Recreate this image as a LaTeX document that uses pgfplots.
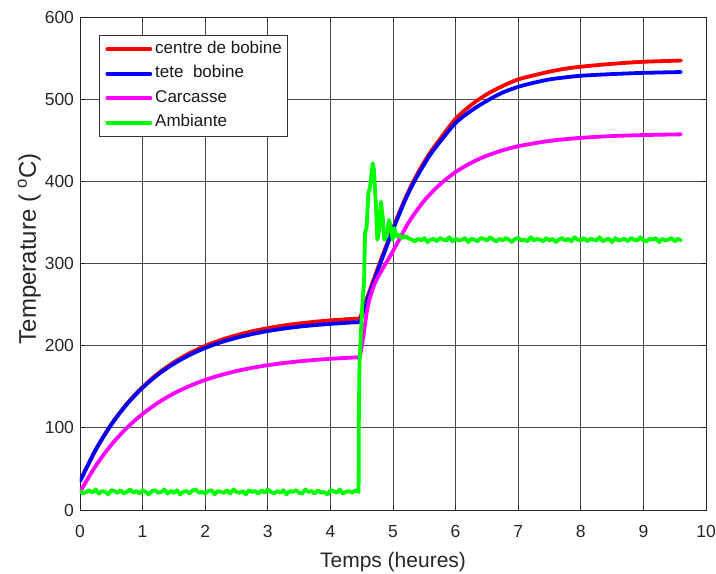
\documentclass[border=0pt]{standalone}
\usepackage{fontspec}
\setmainfont{Liberation Sans}
\usepackage{pgfplots}
\pgfplotsset{compat=1.18}
\definecolor{cred}{RGB}{255,0,0}
\definecolor{cblue}{RGB}{0,0,255}
\definecolor{cmag}{RGB}{255,0,255}
\definecolor{cgreen}{RGB}{0,255,0}
\begin{document}
\begin{tikzpicture}
\begin{axis}[
  scale only axis, width=626bp, height=493bp,
  xmin=0, xmax=10, ymin=0, ymax=600,
  xtick={0,1,2,3,4,5,6,7,8,9,10}, ytick={0,100,200,300,400,500,600},
  grid=major,
  major grid style={black!70, line width=0.7bp},
  axis line style={black!85, line width=0.9bp},
  tick style={black!85, line width=0.8bp},
  tick align=inside, major tick length=5bp,
  /pgf/number format/assume math mode=true,
  tick label style={font=\fontsize{17.5bp}{21bp}\selectfont, text=black!85},
  xticklabel style={anchor=base, yshift=-28bp},
  yticklabel style={xshift=-2.5bp},
  xlabel={Temps (heures)},
  ylabel={Temperature ( \textsuperscript{o}C)},
  label style={text=black!85},
  xlabel style={font=\fontsize{21bp}{25bp}\selectfont, at={(axis description cs:0.5,-0.1176)}, anchor=base},
  ylabel style={font=\fontsize{24bp}{28bp}\selectfont, at={(axis description cs:-0.0703,0.53)}, anchor=base},
  legend style={at={(axis description cs:0.0304,0.9635)}, anchor=north west,
    draw=black!80, line width=0.8bp, fill=white, inner xsep=6bp, inner ysep=6bp,
    font=\fontsize{17bp}{20bp}\selectfont, row sep=9bp, column sep=3bp,
    nodes={inner sep=0bp, text height=12bp, text depth=3.5bp, text=black!90}},
  legend cell align=left,
  legend image code/.code={\draw[#1, line width=3.8bp] (0bp,0bp) -- (43bp,0bp);},
  every axis plot/.append style={line width=3.8bp, line join=round, line cap=round},
]
\coordinate (SW) at (rel axis cs:0,0);
\coordinate (NE) at (rel axis cs:1,1);
% centre de bobine
\addplot[cred, smooth] coordinates {(0,35)(0.25,73.2)(0.5,104.2)(0.75,129.4)(1,149.7)(1.25,166.3)(1.5,179.8)(1.75,190.8)(2,199.7)(2.25,206.9)(2.5,212.7)(2.75,217.5)(3,221.3)(3.25,224.5)(3.5,227)(3.75,229.1)(4,230.8)(4.25,232.1)(4.47,233)};
\addlegendentry{centre de bobine}
\addplot[cred, smooth, forget plot] coordinates {(4.47,233)(4.6,261)(4.75,293)(4.9,323)(5.0,343)(5.1,362)(5.2,380)(5.3,396)(5.4,410.6)(5.5,423.7)(5.6,435.7)(5.75,451.4)(6,476)(6.25,493)(6.5,506)(6.75,516)(7,524)(7.25,529)(7.5,533.5)(7.75,537)(8,539.5)(8.5,543)(9,545.5)(9.6,547)};
% tete bobine
\addplot[cblue, smooth] coordinates {(0,35)(0.25,73.1)(0.5,103.9)(0.75,128.7)(1,148.8)(1.25,165)(1.5,178.1)(1.75,188.6)(2,197.2)(2.25,204.1)(2.5,209.6)(2.75,214.1)(3,217.8)(3.25,220.7)(3.5,223.1)(3.75,225)(4,226.5)(4.25,227.8)(4.47,228.7)};
\addlegendentry{tete\ \ bobine}
\addplot[cblue, smooth, forget plot] coordinates {(4.47,228.7)(4.6,258)(4.75,290)(4.9,321)(5.0,341)(5.1,360)(5.2,378)(5.3,394)(5.4,408)(5.5,421)(5.6,433)(5.75,448)(6,471)(6.25,486)(6.5,498)(6.75,508)(7,515)(7.25,520)(7.5,524)(7.75,526.5)(8,528.5)(8.5,530.5)(9,532)(9.6,533)};
% Carcasse
\addplot[cmag, smooth] coordinates {(0,22)(0.25,53.6)(0.5,79.3)(0.75,100.1)(1,116.9)(1.25,130.7)(1.5,141.9)(1.75,150.9)(2,158.3)(2.25,164.2)(2.5,169.1)(2.75,173)(3,176.2)(3.25,178.8)(3.5,180.9)(3.75,182.6)(4,184)(4.25,185.1)(4.47,185.9)};
\addlegendentry{Carcasse}
\addplot[cmag, smooth, forget plot] coordinates {(4.47,185.9)(4.52,208)(4.58,240)(4.63,258)(4.71,276)(4.8,289)(4.9,302)(5,315)(5.25,350)(5.5,376.5)(5.75,396.2)(6,411.3)(6.25,422.6)(6.5,431.2)(6.75,437.7)(7,442.7)(7.5,449.2)(8,452.9)(8.5,455.1)(9,456.3)(9.6,457.2)};
% Ambiante
\addplot[cgreen] coordinates {
(0.00,23)(0.05,20)(0.10,22)(0.15,24)(0.20,21)(0.25,25)(0.30,20)(0.35,23)(0.40,22)(0.45,19)
(0.50,24)(0.55,23)(0.60,21)(0.65,24)(0.70,20)(0.75,22)(0.80,25)(0.85,21)(0.90,23)(0.95,20)
(1.00,24)(1.05,22)(1.10,19)(1.15,23)(1.20,24)(1.25,21)(1.30,22)(1.35,25)(1.40,20)(1.45,23)
(1.50,21)(1.55,24)(1.60,19)(1.65,22)(1.70,23)(1.75,20)(1.80,24)(1.85,25)(1.90,21)(1.95,22)
(2.00,20)(2.05,23)(2.10,24)(2.15,19)(2.20,23)(2.25,22)(2.30,21)(2.35,24)(2.40,20)(2.45,25)
(2.50,22)(2.55,21)(2.60,23)(2.65,19)(2.70,24)(2.75,22)(2.80,23)(2.85,20)(2.90,24)(2.95,21)
(3.00,25)(3.05,22)(3.10,20)(3.15,23)(3.20,21)(3.25,24)(3.30,19)(3.35,23)(3.40,22)(3.45,24)
(3.50,21)(3.55,20)(3.60,25)(3.65,22)(3.70,23)(3.75,20)(3.80,24)(3.85,21)(3.90,22)(3.95,19)
(4.00,24)(4.05,23)(4.10,21)(4.15,25)(4.20,20)(4.25,22)(4.30,23)(4.35,21)(4.40,24)(4.45,22)
(4.455,120)(4.465,180)(4.50,235)(4.52,262)(4.537,276)(4.553,337)(4.58,345)(4.605,385)(4.633,393)
(4.676,422)(4.696,414)(4.728,369)(4.749,329)(4.77,335)(4.792,357)(4.808,375)(4.835,357)(4.861,329)
(4.899,333)(4.936,353)(4.963,345)(4.995,329)(5.021,343)(5.059,333)(5.101,335)(5.139,331)(5.192,333)(5.244,331)
(5.30,329)(5.35,327)(5.40,330)(5.45,328)(5.50,331)(5.55,326)(5.60,329)(5.65,330)(5.70,327)(5.75,331)
(5.80,329)(5.85,328)(5.90,332)(5.95,327)(6.00,330)(6.05,328)(6.10,329)(6.15,331)(6.20,326)(6.25,330)
(6.30,329)(6.35,327)(6.40,331)(6.45,330)(6.50,328)(6.55,332)(6.60,329)(6.65,327)(6.70,330)(6.75,328)
(6.80,331)(6.85,329)(6.90,326)(6.95,330)(7.00,331)(7.05,328)(7.10,329)(7.15,327)(7.20,332)(7.25,328)
(7.30,330)(7.35,329)(7.40,327)(7.45,331)(7.50,328)(7.55,330)(7.60,326)(7.65,329)(7.70,331)(7.75,328)
(7.80,330)(7.85,327)(7.90,332)(7.95,329)(8.00,328)(8.05,331)(8.10,327)(8.15,330)(8.20,329)(8.25,328)
(8.30,332)(8.35,327)(8.40,329)(8.45,330)(8.50,326)(8.55,331)(8.60,328)(8.65,329)(8.70,330)(8.75,327)
(8.80,331)(8.85,329)(8.90,328)(8.95,332)(9.00,328)(9.05,327)(9.10,330)(9.15,329)(9.20,331)(9.25,326)
(9.30,330)(9.35,328)(9.40,329)(9.45,331)(9.50,327)(9.55,330)(9.60,328)};
\addlegendentry{Ambiante}
\end{axis}
\pgfresetboundingbox
\path[use as bounding box] ([shift={(-80bp,-64bp)}]SW) rectangle ([shift={(10bp,17bp)}]NE);
\end{tikzpicture}
\end{document}
